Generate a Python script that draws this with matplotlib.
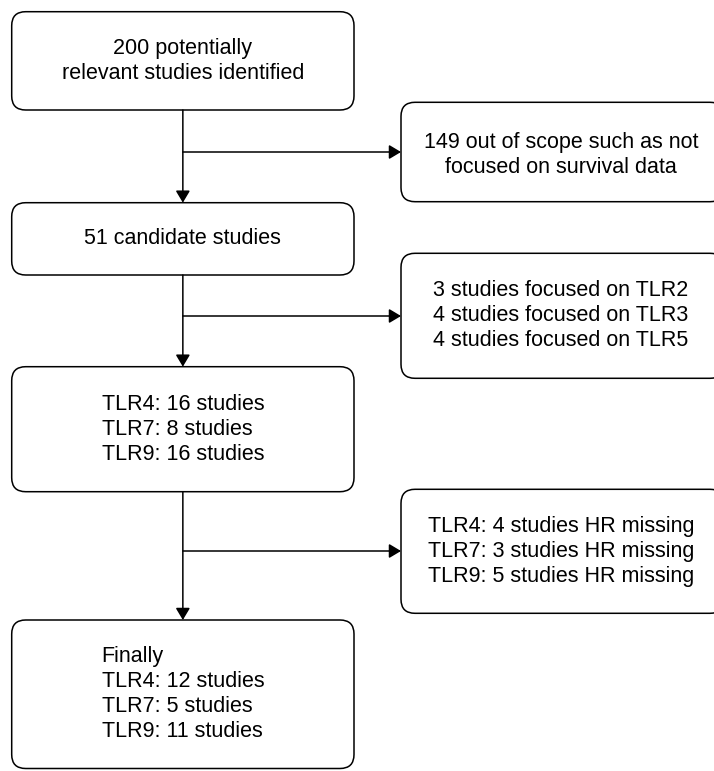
import matplotlib.pyplot as plt
from matplotlib.patches import FancyBboxPatch

plt.rcParams['font.family'] = ['Liberation Sans', 'DejaVu Sans']

# numbers in the flow
n_identified = 200
n_out_of_scope = 149
n_candidates = 51
other_tlrs = ['TLR2', 'TLR3', 'TLR5']
other_counts = [3, 4, 4]
tlrs = ['TLR4', 'TLR7', 'TLR9']
included = [16, 8, 16]
hr_missing = [4, 3, 5]
final = [12, 5, 11]

# texts for every box
txt_identified = f'{n_identified} potentially\nrelevant studies identified'
txt_scope = f'{n_out_of_scope} out of scope such as not\nfocused on survival data'
txt_candidates = f'{n_candidates} candidate studies'
txt_other = '\n'.join(f'{c} studies focused on {t}' for t, c in zip(other_tlrs, other_counts))
txt_included = '\n'.join(f'{t}: {c} studies' for t, c in zip(tlrs, included))
txt_missing = '\n'.join(f'{t}: {c} studies HR missing' for t, c in zip(tlrs, hr_missing))
txt_final = 'Finally\n' + '\n'.join(f'{t}: {c} studies' for t, c in zip(tlrs, final))

fig = plt.figure(figsize=(7.14, 7.71), dpi=100)
ax = fig.add_axes([0, 0, 1, 1])
ax.set_xlim(0, 714)
ax.set_ylim(771, 0)
ax.axis('off')

FS = 15.5
LW = 1.1

# left column / right column boxes (x0, x1)
LX = (11.7, 354)
RX = (401, 724)


def box(x, y0, y1, text, align='center', ty=None, tx=None):
    x0, x1 = x
    p = FancyBboxPatch((x0, y0), x1 - x0, y1 - y0,
                       boxstyle='round,pad=0,rounding_size=14',
                       fc='white', ec='black', lw=LW, clip_on=False)
    ax.add_patch(p)
    if ty is None:
        ty = (y0 + y1) / 2
    if tx is None:
        tx = (x0 + x1) / 2
    ax.text(tx, ty, text, ha='center', va='center', multialignment=align,
            fontsize=FS, linespacing=1.25, color='black')


def arrow(x0, y0, x1, y1):
    ax.annotate('', xy=(x1, y1), xytext=(x0, y0),
                arrowprops=dict(arrowstyle='-|>,head_length=0.72,head_width=0.43',
                                mutation_scale=10, lw=LW, color='black',
                                shrinkA=0, shrinkB=0))


cx = (LX[0] + LX[1]) / 2
rtx = 561

box(LX, 11.7, 110, txt_identified)
box(RX, 102.3, 201.7, txt_scope, tx=rtx, ty=155)
box(LX, 202.7, 275, txt_candidates)
box(RX, 253.3, 378.3, txt_other, align='left', tx=rtx)
box(LX, 366.7, 491.7, txt_included, align='left')
box(RX, 489.3, 613.3, txt_missing, align='left', tx=rtx)
box(LX, 620, 768.5, txt_final, align='left')

# main vertical flow with side branches
for y0, y1, yb in [(110, 202.7, 152), (275, 366.7, 316), (491.7, 620, 551)]:
    arrow(cx, y0, cx, y1)
    arrow(cx, yb, RX[0], yb)

fig.savefig('out.png', dpi=100)
